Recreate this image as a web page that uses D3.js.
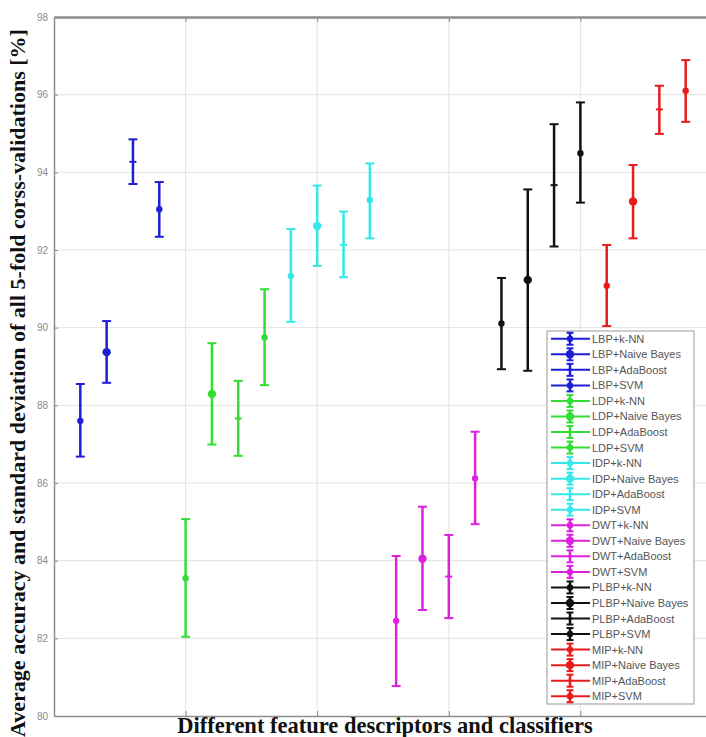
<!DOCTYPE html>
<html lang="en">
<head>
    <meta charset="UTF-8">
    <title>Accuracy per descriptor and classifier</title>
    <script src="https://d3js.org/d3.v7.min.js"></script>
    <style>
        body { margin: 0; background: #fff; }
        .grid line { stroke: #e3e3e3; stroke-width: 1px; }
        .ylab text { font-family: Arial, "Liberation Sans", sans-serif; font-size: 10px; fill: #8a8a8a; }
        .title { font-family: "Liberation Serif", "Times New Roman", serif; font-weight: bold; fill: #111; }
        .legend text { font-family: Arial, "Liberation Sans", sans-serif; font-size: 11px; fill: #555; }
    </style>
</head>
<body>
<svg></svg>
<script>
    // feature descriptors and classifiers, in plotting order
    var descriptors = ["LBP", "LDP", "IDP", "DWT", "PLBP", "MIP"];
    var classifiers = ["k-NN", "Naive Bayes", "AdaBoost", "SVM"];
    var colors = ["#1e1ed8", "#33dd33", "#33e9e9", "#dd22dd", "#111111", "#e81c1c"];

    // mean accuracy [%]
    var means = [87.6, 89.37, 94.27, 93.05,
                 83.55, 88.29, 87.66, 89.75,
                 91.33, 92.62, 92.13, 93.29,
                 82.45, 84.05, 83.59, 86.12,
                 90.11, 91.23, 93.67, 94.49,
                 91.08, 93.25, 95.62, 96.1];
    // lower end of the error bar
    var lows = [86.68, 88.58, 93.7, 92.34,
                82.04, 86.99, 86.7, 88.52,
                90.15, 91.59, 91.3, 92.3,
                80.77, 82.73, 82.52, 84.94,
                88.93, 88.89, 92.09, 93.22,
                90.04, 92.3, 94.99, 95.3];
    // upper end of the error bar
    var highs = [88.55, 90.17, 94.85, 93.75,
                 85.07, 89.6, 88.63, 90.99,
                 92.54, 93.66, 92.99, 94.23,
                 84.12, 85.39, 84.66, 87.32,
                 91.28, 93.56, 95.24, 95.8,
                 92.13, 94.19, 96.23, 96.89];

    var yTicks = [80, 82, 84, 86, 88, 90, 92, 94, 96, 98];
    var xTicks = [5, 10, 15, 20];

    var W = 706, H = 737;
    var pLeft = 54, pTop = 17, pRight = 712, pBottom = 716;

    var svg = d3.select("svg").attr("width", W).attr("height", H);

    var x = d3.scaleLinear().domain([0, 25]).range([pLeft, pRight]);
    var y = d3.scaleLinear().domain([80, 98]).range([pBottom, pTop]);

    var data = means.map(function (m, i) {
        return {
            pos: i + 1,
            mean: m, low: lows[i], high: highs[i],
            color: colors[Math.floor(i / 4)],
            kind: i % 4,
            label: descriptors[Math.floor(i / 4)] + "+" + classifiers[i % 4]
        };
    });

    // grid
    var grid = svg.append("g").classed("grid", true);
    grid.selectAll(".gy").data(yTicks.slice(1, -1)).enter().append("line")
        .attr("x1", pLeft).attr("x2", pRight)
        .attr("y1", function (d) { return y(d); }).attr("y2", function (d) { return y(d); });
    grid.selectAll(".gx").data(xTicks).enter().append("line")
        .attr("y1", pTop).attr("y2", pBottom)
        .attr("x1", function (d) { return x(d); }).attr("x2", function (d) { return x(d); });

    // axes (matlab box with inward ticks)
    var axL = svg.append("g").attr("transform", "translate(" + pLeft + ",0)")
        .call(d3.axisLeft(y).tickValues(yTicks).tickSizeInner(-4).tickSizeOuter(0).tickPadding(6));
    axL.classed("ylab", true);
    var axR = svg.append("g").attr("transform", "translate(" + pRight + ",0)")
        .call(d3.axisRight(y).tickValues(yTicks).tickSizeInner(-4).tickSizeOuter(0).tickFormat(""));
    var axB = svg.append("g").attr("transform", "translate(0," + pBottom + ")")
        .call(d3.axisBottom(x).tickValues(xTicks).tickSizeInner(-5).tickSizeOuter(0).tickFormat(""));
    var axT = svg.append("g").attr("transform", "translate(0," + pTop + ")")
        .call(d3.axisTop(x).tickValues(xTicks).tickSizeInner(-5).tickSizeOuter(0).tickFormat(""));
    [axL, axR, axB, axT].forEach(function (a) {
        a.select(".domain").attr("stroke", "#8c8c8c").attr("stroke-width", 1.5);
        a.selectAll(".tick line").attr("stroke", "#8c8c8c");
    });
    axT.select(".domain").attr("stroke-width", 2.5);

    // draw one error bar with its marker
    function errorBar(g, cx, yl, yh, ym, color, kind, cap) {
        g.append("line").attr("x1", cx).attr("x2", cx).attr("y1", yl).attr("y2", yh)
            .attr("stroke", color).attr("stroke-width", 2.5);
        [yl, yh].forEach(function (yy) {
            g.append("line").attr("x1", cx - cap).attr("x2", cx + cap).attr("y1", yy).attr("y2", yy)
                .attr("stroke", color).attr("stroke-width", 2);
        });
        if (kind === 2) {
            g.append("line").attr("x1", cx - cap + 1).attr("x2", cx + cap - 1).attr("y1", ym).attr("y2", ym)
                .attr("stroke", color).attr("stroke-width", 2);
        } else if (kind === 1) {
            g.append("circle").attr("cx", cx).attr("cy", ym).attr("r", 4.2).attr("fill", color);
        } else {
            g.append("circle").attr("cx", cx).attr("cy", ym).attr("r", 3.2).attr("fill", color);
        }
    }

    var marks = svg.append("g");
    data.forEach(function (d) {
        errorBar(marks, x(d.pos), y(d.low), y(d.high), y(d.mean), d.color, d.kind, 4.5);
    });

    // legend
    var lx = 547, ly = 331, lw = 147, lh = 373, row = lh / data.length;
    var legend = svg.append("g").classed("legend", true);
    legend.append("rect").attr("x", lx).attr("y", ly).attr("width", lw).attr("height", lh)
        .attr("fill", "#fff").attr("stroke", "#999").attr("stroke-width", 1);
    data.forEach(function (d, i) {
        var cy = ly + row * (i + 0.5);
        var g = legend.append("g");
        g.append("line").attr("x1", lx + 4).attr("x2", lx + 43).attr("y1", cy).attr("y2", cy)
            .attr("stroke", d.color).attr("stroke-width", 2);
        errorBar(g, lx + 23, cy + 6, cy - 6, cy, d.color, d.kind, 3.5);
        g.append("text").attr("x", lx + 45).attr("y", cy + 4).text(d.label);
    });

    // axis titles
    svg.append("text").classed("title", true)
        .attr("x", 385).attr("y", 733).attr("text-anchor", "middle")
        .style("font-size", "22.5px")
        .text("Different feature descriptors and classifiers");
    svg.append("text").classed("title", true)
        .attr("transform", "translate(25,383) rotate(-90)").attr("text-anchor", "middle")
        .style("font-size", "22px")
        .text("Average accuracy and standard deviation of all 5-fold corss-validations [%]");
</script>
</body>
</html>
